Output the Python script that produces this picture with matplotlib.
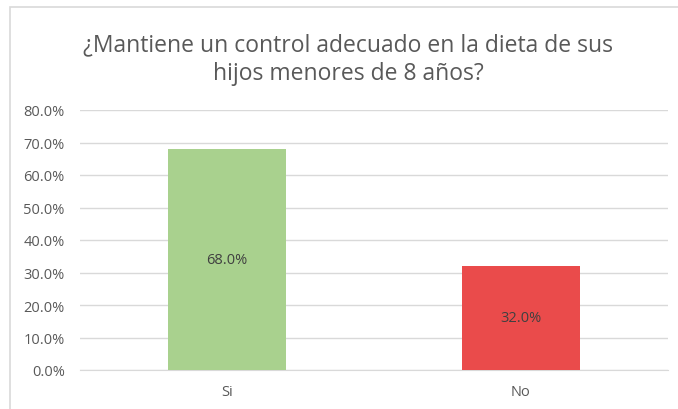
import matplotlib.pyplot as plt
from matplotlib.patches import Rectangle
from matplotlib.ticker import PercentFormatter

plt.rcParams['font.family'] = ['Open Sans', 'DejaVu Sans']

categories = ['Si', 'No']
values = [68.0, 32.0]
colors = ['#A9D18E', '#EA4B4B']
title = '¿Mantiene un control adecuado en la dieta de sus\nhijos menores de 8 años?'

W, H = 678, 410
fig = plt.figure(figsize=(W / 100, H / 100), dpi=100)
fig.patches.append(Rectangle((10 / W, -0.01), 1.0, 1 - 8 / H + 0.01, transform=fig.transFigure,
                             fill=False, edgecolor='#D9D9D9', linewidth=1.2))

ax = fig.add_axes([80 / W, (H - 371) / H, 588 / W, (371 - 111) / H])
bars = ax.bar(categories, values, width=0.4, color=colors, zorder=3)
for b, v in zip(bars, values):
    ax.text(b.get_x() + b.get_width() / 2, v / 2, f'{v:.1f}%', ha='center', va='center',
            fontsize=10.5, color='#404040', zorder=4)

ax.set_xlim(-0.5, 1.5)
ax.set_ylim(0, 80)
ax.set_yticks(range(0, 81, 10))
ax.yaxis.set_major_formatter(PercentFormatter(decimals=1))
ax.grid(axis='y', color='#D9D9D9', linewidth=1, zorder=0)
for s in ['top', 'right', 'left']:
    ax.spines[s].set_visible(False)
ax.spines['bottom'].set_color('#D9D9D9')
ax.tick_params(length=0, colors='#595959', labelsize=10.5)
ax.tick_params(axis='x', pad=10)
ax.tick_params(axis='y', pad=11)

fig.text(348 / W, 1 - 60 / H, title, ha='center', va='center', fontsize=16.5,
         color='#595959', linespacing=1.25)

fig.savefig('out.png', dpi=100)
